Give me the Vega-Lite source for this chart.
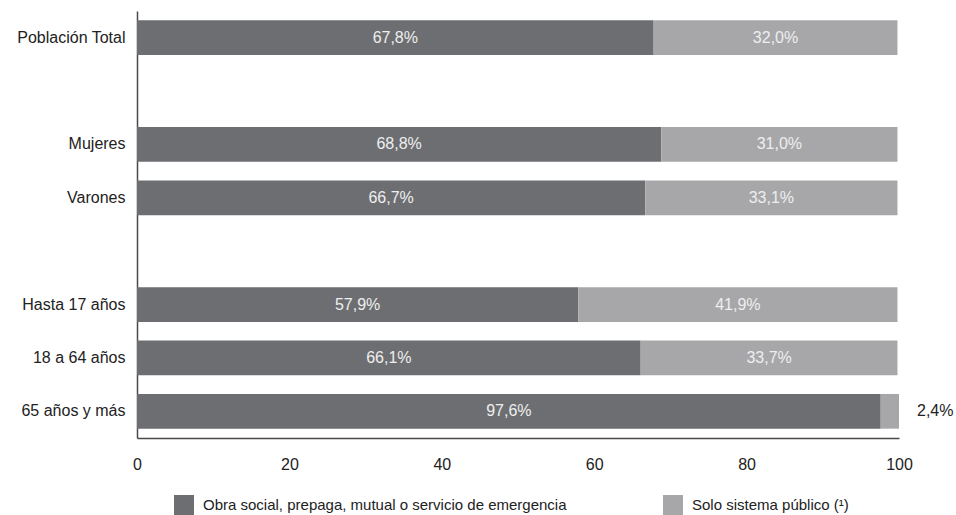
{
  "$schema": "https://vega.github.io/schema/vega-lite/v6.json",
  "width": 762,
  "height": 427,
  "autosize": {"type": "none"},
  "padding": {"left": 137, "top": 11, "right": 57, "bottom": 77},
  "background": "white",
  "config": {
    "view": {"stroke": null},
    "font": "Liberation Sans",
    "axis": {"grid": false, "ticks": false, "domainColor": "#4a4a4d", "domainWidth": 1.5, "labelColor": "#222222", "labelFontSize": 16, "titleFontSize": 16}
  },
  "data": {
    "values": [
      {"cat": "Población Total", "tipo": "Obra social, prepaga, mutual o servicio de emergencia", "ord": 0, "value": 67.8, "label": "67,8%"},
      {"cat": "Población Total", "tipo": "Solo sistema público (¹)", "ord": 1, "value": 32.0, "label": "32,0%"},
      {"cat": "Mujeres", "tipo": "Obra social, prepaga, mutual o servicio de emergencia", "ord": 0, "value": 68.8, "label": "68,8%"},
      {"cat": "Mujeres", "tipo": "Solo sistema público (¹)", "ord": 1, "value": 31.0, "label": "31,0%"},
      {"cat": "Varones", "tipo": "Obra social, prepaga, mutual o servicio de emergencia", "ord": 0, "value": 66.7, "label": "66,7%"},
      {"cat": "Varones", "tipo": "Solo sistema público (¹)", "ord": 1, "value": 33.1, "label": "33,1%"},
      {"cat": "Hasta 17 años", "tipo": "Obra social, prepaga, mutual o servicio de emergencia", "ord": 0, "value": 57.9, "label": "57,9%"},
      {"cat": "Hasta 17 años", "tipo": "Solo sistema público (¹)", "ord": 1, "value": 41.9, "label": "41,9%"},
      {"cat": "18 a 64 años", "tipo": "Obra social, prepaga, mutual o servicio de emergencia", "ord": 0, "value": 66.1, "label": "66,1%"},
      {"cat": "18 a 64 años", "tipo": "Solo sistema público (¹)", "ord": 1, "value": 33.7, "label": "33,7%"},
      {"cat": "65 años y más", "tipo": "Obra social, prepaga, mutual o servicio de emergencia", "ord": 0, "value": 97.6, "label": "97,6%"},
      {"cat": "65 años y más", "tipo": "Solo sistema público (¹)", "ord": 1, "value": 2.4, "label": "2,4%"}
    ]
  },
  "transform": [
    {"stack": "value", "groupby": ["cat"], "sort": [{"field": "ord", "order": "ascending"}], "as": ["v0", "v1"]},
    {"calculate": "(datum.v0 + datum.v1) / 2", "as": "mid"}
  ],
  "encoding": {
    "y": {
      "field": "cat", "type": "nominal", "title": null,
      "scale": {"domain": ["Población Total", " ", "Mujeres", "Varones", "  ", "Hasta 17 años", "18 a 64 años", "65 años y más"], "paddingInner": 0.35, "paddingOuter": 0.175},
      "axis": {"labelPadding": 12, "domain": true}
    }
  },
  "layer": [
    {
      "mark": {"type": "bar"},
      "encoding": {
        "x": {"field": "v0", "type": "quantitative", "title": null,
          "scale": {"domain": [0, 100], "nice": false},
          "axis": {"values": [0, 20, 40, 60, 80, 100], "labelPadding": 18, "labelFlush": false}},
        "x2": {"field": "v1"},
        "color": {
          "field": "tipo", "type": "nominal",
          "scale": {"domain": ["Obra social, prepaga, mutual o servicio de emergencia", "Solo sistema público (¹)"], "range": ["#6d6e72", "#a7a7aa"]},
          "legend": {"title": null, "orient": "none", "legendX": 37, "legendY": 484, "direction": "horizontal", "symbolType": "square", "symbolSize": 400, "symbolStrokeWidth": 0, "symbolOpacity": 1, "labelFontSize": 15, "labelColor": "#222222", "columnPadding": 96, "labelOffset": 9, "labelLimit": 500}
        }
      }
    },
    {
      "transform": [{"filter": "datum.value >= 5"}],
      "mark": {"type": "text", "color": "#eeeeee", "fontSize": 16, "baseline": "middle", "align": "center"},
      "encoding": {
        "x": {"field": "mid", "type": "quantitative"},
        "text": {"field": "label"}
      }
    },
    {
      "transform": [{"filter": "datum.value < 5"}],
      "mark": {"type": "text", "color": "#222222", "fontSize": 16, "baseline": "middle", "align": "left", "dx": 18},
      "encoding": {
        "x": {"field": "v1", "type": "quantitative"},
        "text": {"field": "label"}
      }
    }
  ]
}
